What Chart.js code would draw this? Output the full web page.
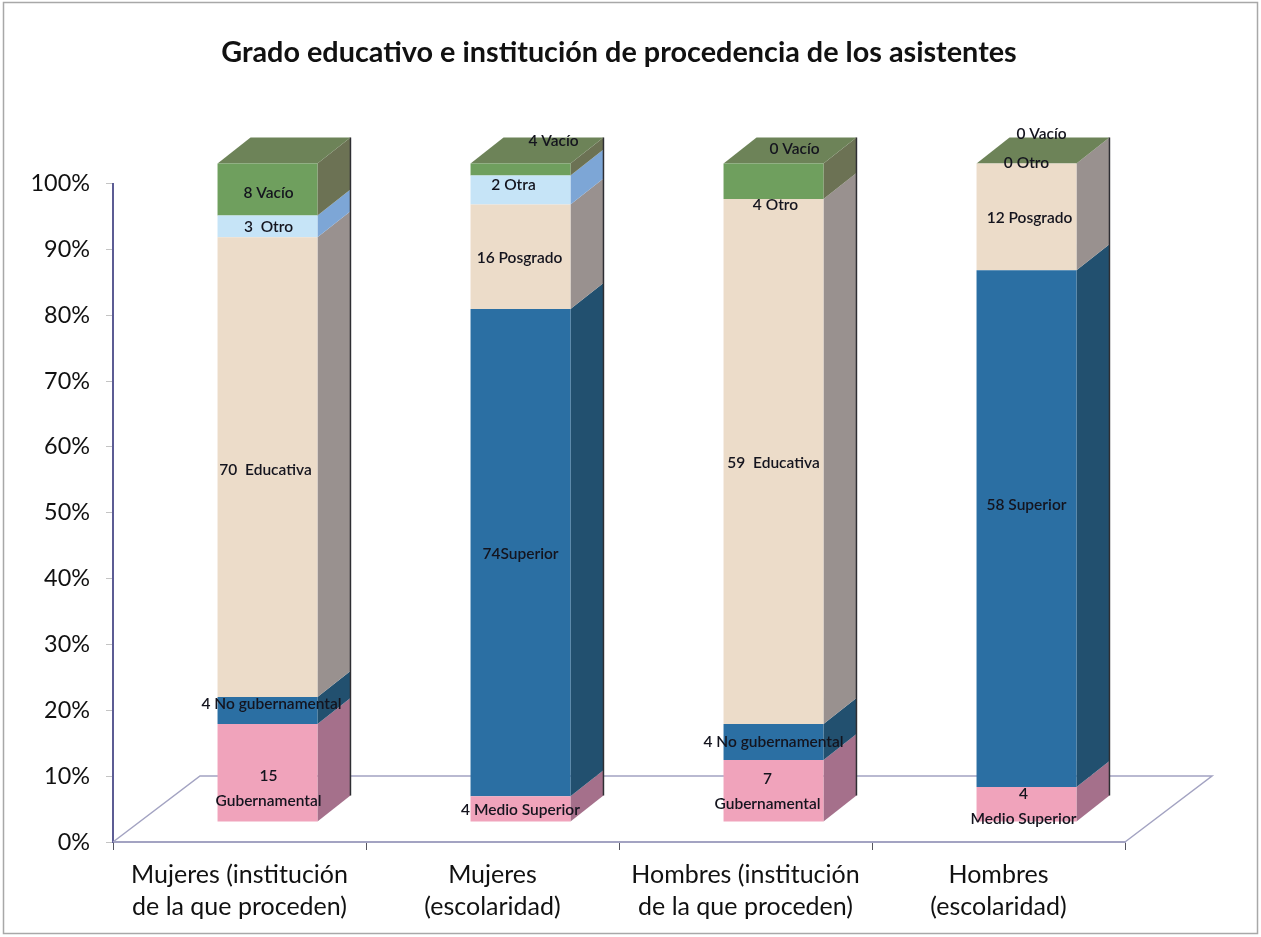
<!DOCTYPE html>
<html>
<head>
<meta charset="utf-8">
<title>Grado educativo e institución de procedencia</title>
<style>
  html, body { margin: 0; padding: 0; background: #fff; }
  canvas { display: block; }
</style>
</head>
<body>
<canvas id="gradoChart" width="1261" height="937"></canvas>
<script src="https://cdn.jsdelivr.net/npm/chart.js@4/dist/chart.umd.min.js"></script>
<script>
// categories and stacked shares (percent)
const categories = [
  ["Mujeres (institución", "de la que proceden)"],
  ["Mujeres", "(escolaridad)"],
  ["Hombres (institución", "de la que proceden)"],
  ["Hombres", "(escolaridad)"],
];
const rosaValues = [14.9, 3.9, 9.4, 5.3];
const azulValues = [4.1, 74.0, 5.5, 78.5];
const cremaValues = [69.8, 15.9, 79.7, 16.2];
const celesteValues = [3.3, 4.4, 0, 0];
const verdeValues = [7.9, 1.8, 5.4, 0];

// the text written on each segment
const rosaLabels = ["15\nGubernamental", "4 Medio Superior", "7\nGubernamental", "4\nMedio Superior"];
const azulLabels = ["4 No gubernamental", "74Superior", "4 No gubernamental", "58 Superior"];
const cremaLabels = ["70  Educativa", "16 Posgrado", "59  Educativa", "12 Posgrado"];
const celesteLabels = ["3  Otro", "2 Otra", "4 Otro", "0 Otro"];
const verdeLabels = ["8 Vacío", "4 Vacío", "0 Vacío", "0 Vacío"];

// nudges of the labels from the middle of their segment
const rosaNudge = [[1, 16], [0, 1], [-6, 1], [-3, 2]];
const azulNudge = [[4, -6], [0, 1], [0, 0], [0, -24]];
const cremaNudge = [[-2, 3], [-1, 1], [0, 1], [3, 1]];
const celesteNudge = [[1, 1], [-7, -5], [2, 6], [0, -1]];
const verdeNudge = [[1, 3], [33, -28], [21, -32], [15, -30]];

const depthX = 33;
const depthY = 26;
const floorX = 87;
const floorY = 66;
const shiftX = 28;
const shiftY = 20;

const series = [
  { data: rosaValues, labels: rosaLabels, nudge: rosaNudge, front: "#f0a3bb", side: "#a5708b" },
  { data: azulValues, labels: azulLabels, nudge: azulNudge, front: "#2b6fa3", side: "#22506f" },
  { data: cremaValues, labels: cremaLabels, nudge: cremaNudge, front: "#ecdcc9", side: "#99918f" },
  { data: celesteValues, labels: celesteLabels, nudge: celesteNudge, front: "#c6e4f7", side: "#7da6d6" },
  { data: verdeValues, labels: verdeLabels, nudge: verdeNudge, front: "#6f9f5e", side: "#6c7254" },
];
const topColor = "#6d8358";

function quad(ctx, pts, color) {
  ctx.fillStyle = color;
  ctx.beginPath();
  ctx.moveTo(pts[0][0], pts[0][1]);
  for (let i = 1; i < pts.length; i++) ctx.lineTo(pts[i][0], pts[i][1]);
  ctx.closePath();
  ctx.fill();
}

// page frame
const framePlugin = {
  id: "frame",
  beforeDraw(chart) {
    const ctx = chart.ctx;
    ctx.save();
    ctx.fillStyle = "#fff";
    ctx.fillRect(0, 0, chart.width, chart.height);
    ctx.strokeStyle = "#a8a8a8";
    ctx.lineWidth = 1.5;
    ctx.strokeRect(3.5, 2.5, 1254, 931);
    ctx.restore();
  },
};

// floor, side and top faces go under the bars, which are moved onto the floor
const depthPlugin = {
  id: "depth",
  beforeDatasetsDraw(chart) {
    const ctx = chart.ctx;
    const area = chart.chartArea;
    ctx.save();
    ctx.strokeStyle = "#a3a3c2";
    ctx.lineWidth = 1.5;
    ctx.beginPath();
    ctx.moveTo(area.left, area.bottom);
    ctx.lineTo(area.left + floorX, area.bottom - floorY);
    ctx.lineTo(area.right + floorX, area.bottom - floorY);
    ctx.lineTo(area.right, area.bottom);
    ctx.stroke();

    ctx.translate(shiftX, -shiftY);
    chart.data.datasets.forEach(function (ds, d) {
      chart.getDatasetMeta(d).data.forEach(function (bar) {
        const p = bar.getProps(["x", "y", "base", "width"]);
        const r = p.x + p.width / 2;
        quad(ctx, [[r, p.y], [r + depthX, p.y - depthY], [r + depthX, p.base - depthY], [r, p.base]], series[d].side);
      });
    });
    // top cap and dark back edge, taken from the last series of each column
    const last = chart.getDatasetMeta(chart.data.datasets.length - 1).data;
    const first = chart.getDatasetMeta(0).data;
    last.forEach(function (bar, i) {
      const p = bar.getProps(["x", "y", "width"]);
      const l = p.x - p.width / 2;
      const r = p.x + p.width / 2;
      quad(ctx, [[l, p.y], [l + depthX, p.y - depthY], [r + depthX, p.y - depthY], [r, p.y]], topColor);
      ctx.strokeStyle = "#2e2e33";
      ctx.lineWidth = 1.5;
      ctx.beginPath();
      ctx.moveTo(r + depthX, p.y - depthY);
      ctx.lineTo(r + depthX, first[i].getProps(["base"]).base - depthY);
      ctx.stroke();
    });
    ctx.restore();
    ctx.save();
    ctx.translate(shiftX, -shiftY);
  },
  afterDatasetsDraw(chart) {
    const ctx = chart.ctx;
    ctx.restore();
    ctx.save();
    ctx.translate(shiftX, -shiftY);
    ctx.font = "600 15.5px Lato";
    ctx.fillStyle = "#14141e";
    ctx.textAlign = "center";
    ctx.textBaseline = "middle";
    chart.data.datasets.forEach(function (ds, d) {
      chart.getDatasetMeta(d).data.forEach(function (bar, i) {
        const p = bar.getProps(["x", "y", "base"]);
        const lines = series[d].labels[i].split("\n");
        const n = series[d].nudge[i];
        const y = (p.y + p.base) / 2 + n[1];
        lines.forEach(function (txt, k) {
          ctx.fillText(txt, p.x + n[0], y + (k - (lines.length - 1) / 2) * 25);
        });
      });
    });
    ctx.restore();
  },
};

const config = {
  type: "bar",
  data: {
    labels: categories,
    datasets: series.map(function (s) {
      return {
        data: s.data,
        backgroundColor: s.front,
        borderWidth: 0,
        barPercentage: 0.395,
        categoryPercentage: 1,
        clip: false,
      };
    }),
  },
  plugins: [framePlugin, depthPlugin],
  options: {
    responsive: false,
    animation: false,
    layout: { padding: { left: 0, right: 136, top: 0, bottom: 0 } },
    plugins: {
      legend: { display: false },
      tooltip: { enabled: false },
      title: {
        display: true,
        fullSize: false,
        text: "Grado educativo e institución de procedencia de los asistentes",
        color: "#111",
        font: { family: "Lato", size: 28.8, weight: "bold", lineHeight: 1.2 },
        padding: { top: 35, bottom: 114 },
      },
    },
    scales: {
      x: {
        stacked: true,
        afterFit: function (scale) { scale.height = 95; },
        border: { color: "#a3a3c2", width: 2 },
        grid: { drawOnChartArea: false, color: "#55555f", tickLength: 8 },
        ticks: {
          color: "#111",
          font: { family: "Lato", size: 25, lineHeight: 1.28 },
          padding: 9,
          maxRotation: 0,
          autoSkip: false,
        },
      },
      y: {
        stacked: true,
        min: 0,
        max: 100,
        afterFit: function (scale) { scale.width = 113; },
        border: { color: "#5c5c94", width: 2 },
        grid: { drawOnChartArea: false, color: "#c4c4c4", tickLength: 7 },
        ticks: {
          stepSize: 10,
          color: "#111",
          font: { family: "Lato", size: 23.4 },
          padding: 16,
          callback: function (v) { return v + "%"; },
        },
      },
    },
  },
};

var gradoChart = new Chart(document.getElementById("gradoChart"), config);
</script>
</body>
</html>
